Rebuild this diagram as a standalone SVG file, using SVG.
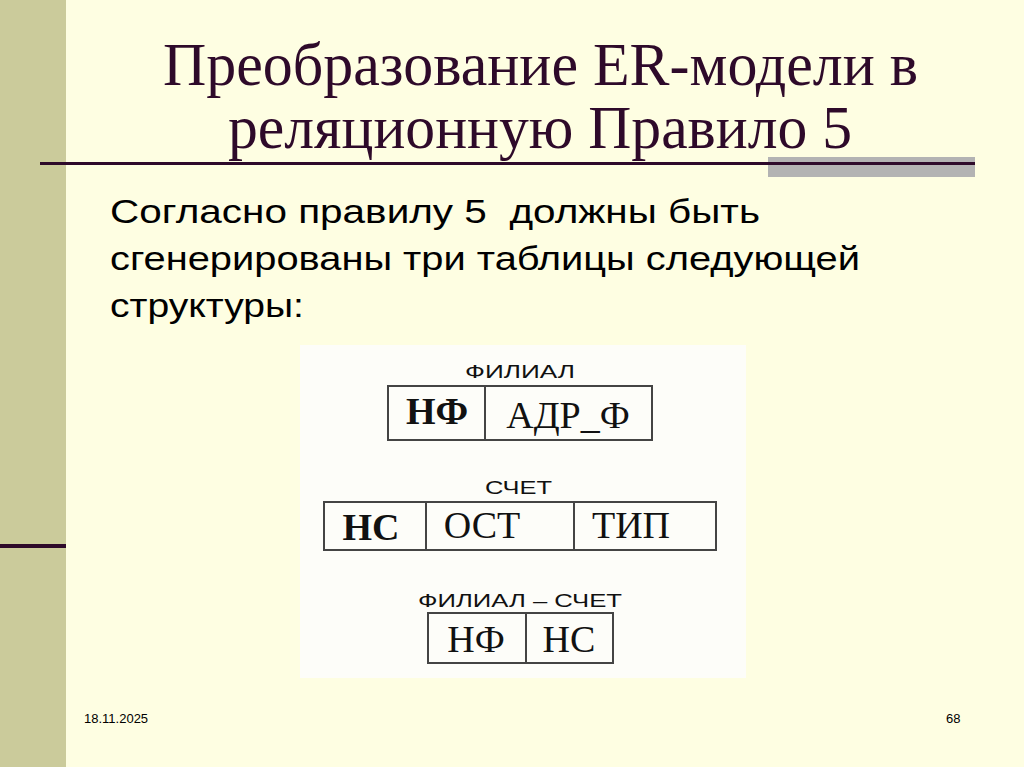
<svg xmlns="http://www.w3.org/2000/svg" width="1024" height="767" viewBox="0 0 1024 767">
<style>
.title{font-family:"Liberation Serif","Times New Roman",serif;font-size:61px;fill:#2e0a2a}
.body{font-family:"Liberation Sans",Arial,sans-serif;font-size:34px;fill:#000;white-space:pre}
.cap{font-family:"Liberation Sans",Arial,sans-serif;font-size:19px;fill:#111}
.cell{font-family:"Liberation Serif","Times New Roman",serif;font-size:38px;fill:#111;text-anchor:middle}
.key{font-weight:bold}
.box{fill:none;stroke:#444;stroke-width:2}
.foot{font-family:"Liberation Sans",Arial,sans-serif;font-size:13px;fill:#000}
</style>
<rect x="0" y="0" width="1024" height="767" fill="#fefee2"/>
<rect x="0" y="0" width="66" height="767" fill="#cbcb9b"/>
<rect x="0" y="544" width="66" height="4" fill="#2e0a2a"/>
<rect x="768" y="157" width="207" height="20" fill="#b3b3b3"/>
<rect x="40" y="162" width="935" height="3" fill="#2e0a2a"/>
<text class="title" x="163" y="85" textLength="755" lengthAdjust="spacingAndGlyphs">Преобразование ER-модели в</text>
<text class="title" x="228" y="148" textLength="624" lengthAdjust="spacingAndGlyphs">реляционную Правило 5</text>
<text class="body" x="110" y="223" textLength="650" lengthAdjust="spacingAndGlyphs" xml:space="preserve">Согласно правилу 5  должны быть</text>
<text class="body" x="110" y="270" textLength="750" lengthAdjust="spacingAndGlyphs">сгенерированы три таблицы следующей</text>
<text class="body" x="110" y="317" textLength="194" lengthAdjust="spacingAndGlyphs">структуры:</text>
<rect x="300" y="345" width="446" height="333" fill="#fdfdf9"/>
<g id="filial">
<text class="cap" x="465" y="378" textLength="110" lengthAdjust="spacingAndGlyphs">ФИЛИАЛ</text>
<rect class="box" x="388" y="386" width="264" height="54"/>
<line class="box" x1="485" y1="386" x2="485" y2="440"/>
<text class="cell key" x="437" y="424">НФ</text>
<text class="cell" x="568" y="428">АДР_Ф</text>
</g>
<g id="schet">
<text class="cap" x="485" y="494" textLength="67" lengthAdjust="spacingAndGlyphs">СЧЕТ</text>
<rect class="box" x="324" y="502" width="392" height="48"/>
<line class="box" x1="426" y1="502" x2="426" y2="550"/>
<line class="box" x1="574" y1="502" x2="574" y2="550"/>
<text class="cell key" x="371" y="540">НС</text>
<text class="cell" x="482" y="538">ОСТ</text>
<text class="cell" x="631" y="538">ТИП</text>
</g>
<g id="filial-schet">
<text class="cap" x="418" y="607" textLength="204" lengthAdjust="spacingAndGlyphs">ФИЛИАЛ – СЧЕТ</text>
<rect class="box" x="428" y="613" width="185" height="50"/>
<line class="box" x1="526" y1="613" x2="526" y2="663"/>
<text class="cell" x="476" y="652">НФ</text>
<text class="cell" x="569" y="652">НС</text>
</g>
<g id="connectors"></g>
<text class="foot" x="84" y="723">18.11.2025</text>
<text class="foot" x="946" y="723">68</text>
</svg>
